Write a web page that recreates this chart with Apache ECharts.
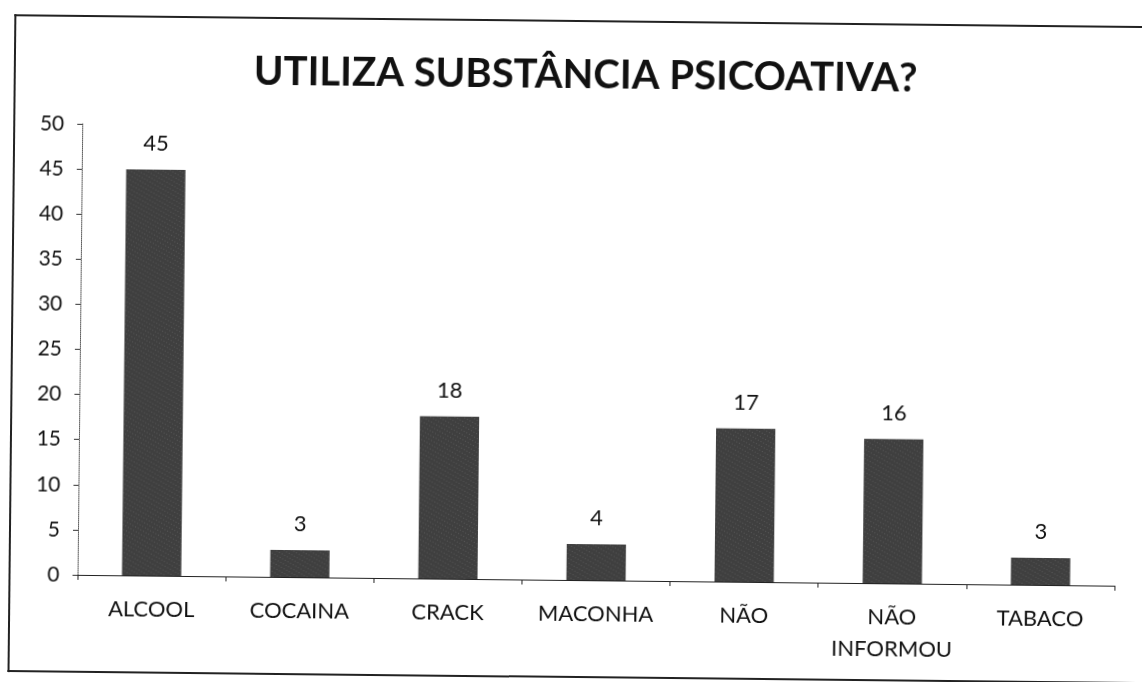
<!DOCTYPE html>
<html>
<head>
<meta charset="utf-8">
<script src="https://cdn.jsdelivr.net/npm/echarts@6/dist/echarts.min.js"></script>
<style>
  html, body { margin: 0; padding: 0; background: #fff; overflow: hidden; }
  #sheet { position: absolute; left: 0; top: 0; width: 1142px; height: 682px;
           transform: rotate(0.6deg); transform-origin: 571px 341px; }
  #frame { position: absolute; left: 11px; top: 20px; width: 1200px; height: 658px;
           border-left: 2px solid #222; border-top: 2px solid #222; border-bottom: 2px solid #222; box-sizing: border-box; }
  #chart { position: absolute; left: 0; top: 0; width: 1142px; height: 682px; }
</style>
</head>
<body>
<div id="sheet">
  <div id="frame"></div>
  <div id="chart"></div>
</div>
<script>
// Substance use answers and counts
const categories = ['ALCOOL', 'COCAINA', 'CRACK', 'MACONHA', 'NÃO', 'NÃO\nINFORMOU', 'TABACO'];
const counts = [45, 3, 18, 4, 17, 16, 3];
const yTicks = { min: 0, max: 50, interval: 5 };

const font = 'Lato, "Open Sans", sans-serif';
const chart = echarts.init(document.getElementById('chart'), null, { renderer: 'canvas' });
chart.setOption({
  animation: false,
  backgroundColor: 'transparent',
  title: {
    text: 'UTILIZA SUBSTÂNCIA PSICOATIVA?',
    left: 246,
    top: 50,
    textStyle: { fontFamily: font, fontWeight: 'bold', fontSize: 40, color: '#111' }
  },
  grid: { left: 80, right: 25, top: 129, bottom: 102, containLabel: false },
  xAxis: {
    type: 'category',
    data: categories,
    axisLine: { lineStyle: { color: '#222', width: 1.2 } },
    axisTick: { show: true, length: 5, lineStyle: { color: '#222' } },
    axisLabel: { color: '#111', fontFamily: font, fontSize: 22, margin: 18, lineHeight: 32, interval: 0 }
  },
  yAxis: {
    type: 'value',
    min: yTicks.min, max: yTicks.max, interval: yTicks.interval,
    splitLine: { show: false },
    axisLine: { show: true, lineStyle: { color: '#555', width: 1, type: 'dotted' } },
    axisTick: { show: true, length: 5, lineStyle: { color: '#333' } },
    axisLabel: { color: '#111', fontFamily: font, fontSize: 21, margin: 18 }
  },
  series: [{
    type: 'bar',
    data: counts,
    barWidth: '40%',
    itemStyle: {
      color: '#3f3f3f',
      decal: {
        symbol: 'rect',
        symbolSize: 0.6,
        color: 'rgba(255,255,255,0.45)',
        dashArrayX: [1, 2],
        dashArrayY: [1, 3],
        rotation: 0.5
      }
    },
    label: { show: true, position: 'top', distance: 15, color: '#111', fontFamily: font, fontSize: 22 }
  }]
});
</script>
</body>
</html>
